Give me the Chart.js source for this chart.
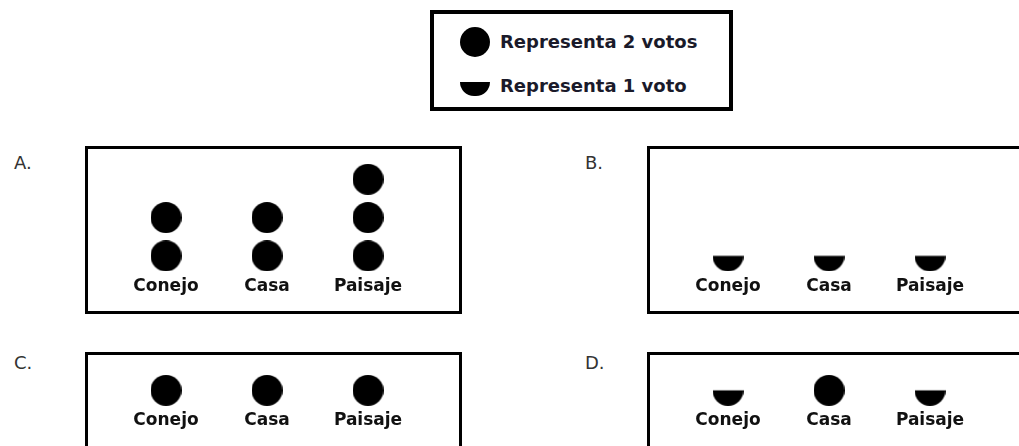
<!DOCTYPE html>
<html>
<head>
<meta charset="utf-8">
<script src="https://cdn.jsdelivr.net/npm/chart.js@4.4.1/dist/chart.umd.min.js"></script>
<style>
  body { margin: 0; width: 1019px; height: 446px; overflow: hidden; background: #fff; position: relative; font-family: "DejaVu Sans", sans-serif; color: #111; }
  .legend { position: absolute; left: 430px; top: 10px; width: 303px; height: 101px; border: 4px solid #000; box-sizing: border-box; }
  .legend .row { position: absolute; left: 66px; font-size: 18px; font-weight: bold; line-height: 18px; color: #1a1a2a; }
  .icon { position: absolute; background: #000; }
  .full { left: 26px; top: 13px; width: 30px; height: 30px; border-radius: 50%; }
  .half { left: 26px; top: 68px; width: 30px; height: 14px; border-radius: 0 0 15px 15px; }
  .letter { position: absolute; font-size: 18px; line-height: 18px; color: #333; }
  .frame { position: absolute; width: 377px; height: 168px; border: 3px solid #000; box-sizing: border-box; }
  .frame canvas { display: block; }
</style>
</head>
<body>
<div class="legend">
  <div class="icon full"></div>
  <div class="row" style="top:19px">Representa 2 votos</div>
  <div class="icon half"></div>
  <div class="row" style="top:63px">Representa 1 voto</div>
</div>

<div class="letter" style="left:14px;top:154px">A.</div>
<div class="letter" style="left:585px;top:154px">B.</div>
<div class="letter" style="left:14px;top:354px">C.</div>
<div class="letter" style="left:585px;top:354px">D.</div>

<div class="frame" style="left:85px;top:146px"><canvas id="chartA"></canvas></div>
<div class="frame" style="left:647px;top:146px"><canvas id="chartB"></canvas></div>
<div class="frame" style="left:85px;top:352px"><canvas id="chartC"></canvas></div>
<div class="frame" style="left:647px;top:352px"><canvas id="chartD"></canvas></div>

<script>
// pictograph data: votes per drawing, one full circle = 2 votes, half = 1 vote
const categories = ['Conejo', 'Casa', 'Paisaje'];
const votesA = [4, 4, 6];
const votesB = [1, 1, 1];
const votesC = [2, 2, 2];
const votesD = [1, 2, 1];

// icon images used as point styles
function makeIcon(half) {
    const c = document.createElement('canvas');
    c.width = 31;
    c.height = 31;
    const g = c.getContext('2d');
    g.fillStyle = '#000';
    g.beginPath();
    if (half) {
        g.arc(15.5, 15.5, 15.5, 0, Math.PI);
        g.closePath();
    } else {
        g.arc(15.5, 15.5, 15.5, 0, Math.PI * 2);
    }
    g.fill();
    return c;
}
const fullIcon = makeIcon(false);
const halfIcon = makeIcon(true);

function buildPoints(votes) {
    const full = [];
    const half = [];
    votes.forEach((v, i) => {
        const n = Math.floor(v / 2);
        for (let k = 0; k < n; k++) full.push({ x: categories[i], y: k });
        if (v % 2) half.push({ x: categories[i], y: n });
    });
    return { full, half };
}

function makeChart(id, votes, yMax, padBottom) {
    const pts = buildPoints(votes);
    const canvas = document.getElementById(id);
    canvas.width = 371;
    canvas.height = 162;
    canvas.style.width = '371px';
    canvas.style.height = '162px';
    return new Chart(canvas, {
        type: 'scatter',
        data: {
            datasets: [
                { data: pts.full, pointStyle: fullIcon, pointRadius: 15, clip: false },
                { data: pts.half, pointStyle: halfIcon, pointRadius: 15, clip: false }
            ]
        },
        options: {
            responsive: false,
            animation: false,
            layout: { autoPadding: false, padding: { left: 27.5, right: 40.5, top: 0, bottom: padBottom } },
            plugins: { legend: { display: false }, tooltip: { enabled: false } },
            scales: {
                x: {
                    type: 'category',
                    labels: categories,
                    offset: true,
                    grid: { display: false, drawTicks: false },
                    border: { display: false },
                    ticks: { padding: 1, color: '#111', font: { family: 'DejaVu Sans', size: 17, weight: 'bold' } }
                },
                y: {
                    display: false,
                    min: -0.5,
                    max: yMax
                }
            }
        }
    });
}

makeChart('chartA', votesA, 2.79, 13.6);
makeChart('chartB', votesB, 2.79, 13.6);
makeChart('chartC', votesC, 0.92, 85);
makeChart('chartD', votesD, 0.92, 85);
</script>
</body>
</html>
